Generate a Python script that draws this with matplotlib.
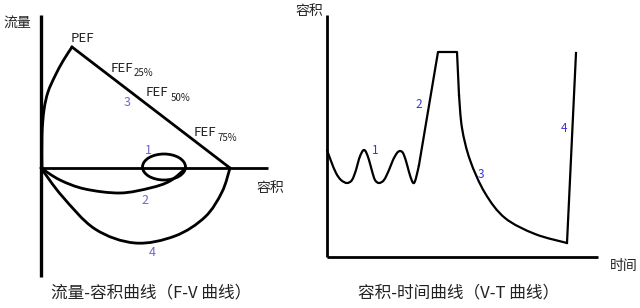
import numpy as np
import matplotlib.pyplot as plt
from matplotlib.patches import Ellipse, PathPatch
from matplotlib.path import Path

plt.rcParams['font.family'] = ['Noto Sans CJK SC', 'DejaVu Sans']

# F-V 曲线 (left), pixel-like units, y grows downward
fv_rise_x = [42, 42, 44, 48, 55, 63, 72]
fv_rise_y = [168, 135, 110, 92, 76, 61, 47]
fv_fall_x = [72, 230]
fv_fall_y = [47, 168]
fv_c2_x = [41, 60, 85, 120, 150, 170, 186]
fv_c2_y = [168, 180, 189, 193, 188, 181, 168]
fv_c4_x = [41, 62, 95, 135, 175, 205, 222, 230]
fv_c4_y = [168, 196, 229, 243, 236, 217, 192, 168]
loop1 = (164, 167, 43, 26)  # cx, cy, w, h

# V-T 曲线 (right), pieces: waves, rise, plateau, decay, final rise
vt_wave_x = [327, 331, 336, 341, 347, 352, 356, 359, 362, 364, 366, 369, 372, 375,
             379, 384, 389, 393, 397, 400, 403, 406, 409, 412, 414, 416, 419]
vt_wave_y = [150, 161, 173, 180, 183, 180, 170, 159, 152, 150, 152, 160, 171, 180,
             183, 180, 170, 160, 153, 151, 153, 161, 172, 181, 183, 178, 165]
vt_line_x = [419, 438, 457, 459]
vt_line_y = [165, 52, 52, 95]
vt_decay_x = [459, 462, 470, 485, 505, 535, 567]
vt_decay_y = [95, 128, 160, 193, 218, 234, 243]
vt_end_x = [567, 576]
vt_end_y = [243, 53]


def smooth(ax, xs, ys, lw):
    # cubic bezier (catmull-rom) passing through the listed points
    p = np.column_stack([xs, ys]).astype(float)
    ext = np.vstack([p[0], p, p[-1]])
    verts = [tuple(p[0])]
    codes = [Path.MOVETO]
    for i in range(1, len(ext) - 2):
        c1 = ext[i] + (ext[i + 1] - ext[i - 1]) / 6
        c2 = ext[i + 1] - (ext[i + 2] - ext[i]) / 6
        verts += [tuple(c1), tuple(c2), tuple(ext[i + 1])]
        codes += [Path.CURVE4] * 3
    ax.add_patch(PathPatch(Path(verts, codes), fill=False, ec='black', lw=lw,
                           capstyle='round', joinstyle='round'))


fig = plt.figure(figsize=(6.4, 3.08), dpi=100)
ax = fig.add_axes([0, 0, 1, 1])
ax.set_xlim(0, 640)
ax.set_ylim(308, 0)
ax.axis('off')

k = 'black'
# left axes
ax.plot([41, 41], [15, 277], color=k, lw=2.4, solid_capstyle='butt')
ax.plot([41, 268], [168, 168], color=k, lw=2.0, solid_capstyle='butt')
smooth(ax, fv_rise_x, fv_rise_y, 2.0)
ax.plot(fv_fall_x, fv_fall_y, color=k, lw=2.0)
smooth(ax, fv_c2_x, fv_c2_y, 2.0)
smooth(ax, fv_c4_x, fv_c4_y, 2.0)
ax.add_patch(Ellipse(loop1[:2], loop1[2], loop1[3], fill=False, ec=k, lw=2.0))

# right axes
ax.plot([327, 327], [15, 257], color=k, lw=2.0, solid_capstyle='butt')
ax.plot([327, 598], [257, 257], color=k, lw=2.0, solid_capstyle='butt')
smooth(ax, vt_wave_x, vt_wave_y, 1.6)
ax.plot(vt_line_x, vt_line_y, color=k, lw=1.6)
smooth(ax, vt_decay_x, vt_decay_y, 1.6)
ax.plot(vt_end_x, vt_end_y, color=k, lw=1.6)

t = '#222222'
ax.text(3, 23, '流量', fontsize=10, color=t, va='center')
ax.text(71, 38, 'PEF', fontsize=9.5, color=t, va='center')
ax.text(111, 68, 'FEF', fontsize=9.5, color=t, va='center')
ax.text(134, 73, '25%', fontsize=7, color=t, va='center')
ax.text(146, 93, 'FEF', fontsize=9.5, color=t, va='center')
ax.text(171, 98, '50%', fontsize=7, color=t, va='center')
ax.text(194, 133, 'FEF', fontsize=9.5, color=t, va='center')
ax.text(218, 138, '75%', fontsize=7, color=t, va='center')
ax.text(257, 188, '容积', fontsize=10, color=t, va='center')
ax.text(151, 293, '流量-容积曲线（F-V 曲线）', fontsize=12, color=t, ha='center', va='center')

p = '#7066cc'
ax.text(127, 102, '3', fontsize=9, color=p, ha='center', va='center')
ax.text(148, 150, '1', fontsize=9, color=p, ha='center', va='center')
ax.text(145, 200, '2', fontsize=9, color=p, ha='center', va='center')
ax.text(152, 253, '4', fontsize=9, color=p, ha='center', va='center')

b = '#3b35d8'
ax.text(375, 151, '1', fontsize=8.5, color=b, ha='center', va='center')
ax.text(419, 105, '2', fontsize=8.5, color=b, ha='center', va='center')
ax.text(481, 175, '3', fontsize=8.5, color=b, ha='center', va='center')
ax.text(564, 128, '4', fontsize=8.5, color=b, ha='center', va='center')

ax.text(296, 11, '容积', fontsize=10, color=t, va='center')
ax.text(610, 266, '时间', fontsize=10, color=t, va='center')
ax.text(459, 293, '容积-时间曲线（V-T 曲线）', fontsize=12, color=t, ha='center', va='center')

fig.savefig('out.png', dpi=100)
